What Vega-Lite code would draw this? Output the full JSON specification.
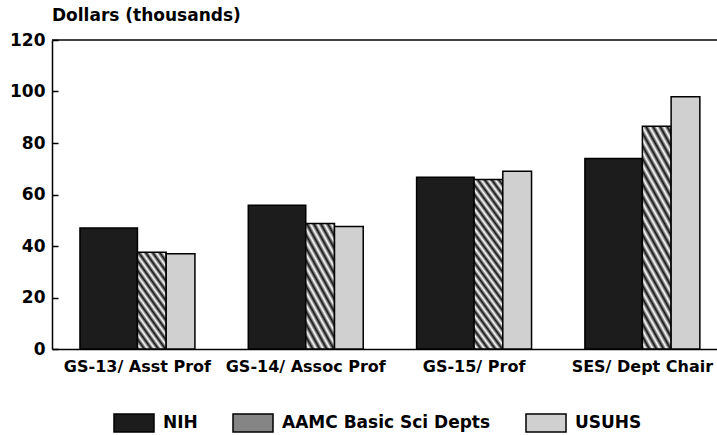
{
  "$schema": "https://vega.github.io/schema/vega-lite/v6.json",
  "autosize": {"type": "none"},
  "padding": {"left": 52, "top": 40, "right": 0, "bottom": 86},
  "width": 665,
  "height": 309,
  "background": "white",
  "title": {"text": "Dollars (thousands)", "anchor": "start", "frame": "group", "fontSize": 17, "font": "DejaVu Sans", "fontWeight": "bold", "color": "black", "offset": 6},
  "config": {"view": {"stroke": null}, "font": "DejaVu Sans"},
  "data": {"values": [
    {"grade": "GS-13/ Asst Prof", "series": "NIH", "salary": 47},
    {"grade": "GS-13/ Asst Prof", "series": "AAMC Basic Sci Depts", "salary": 37.6},
    {"grade": "GS-13/ Asst Prof", "series": "USUHS", "salary": 37},
    {"grade": "GS-14/ Assoc Prof", "series": "NIH", "salary": 55.8},
    {"grade": "GS-14/ Assoc Prof", "series": "AAMC Basic Sci Depts", "salary": 48.7},
    {"grade": "GS-14/ Assoc Prof", "series": "USUHS", "salary": 47.6},
    {"grade": "GS-15/ Prof", "series": "NIH", "salary": 66.7},
    {"grade": "GS-15/ Prof", "series": "AAMC Basic Sci Depts", "salary": 65.8},
    {"grade": "GS-15/ Prof", "series": "USUHS", "salary": 69},
    {"grade": "SES/ Dept Chair", "series": "NIH", "salary": 74},
    {"grade": "SES/ Dept Chair", "series": "AAMC Basic Sci Depts", "salary": 86.5},
    {"grade": "SES/ Dept Chair", "series": "USUHS", "salary": 98}
  ]},
  "layer": [
    {
      "transform": [{"filter": "datum.series === 'NIH'"}],
      "mark": {"type": "bar", "stroke": "black", "strokeWidth": 1.5},
      "encoding": {
        "x": {"field": "grade", "type": "nominal", "sort": null,
              "scale": {"paddingInner": 0.317, "paddingOuter": 0.134, "align": 0.62},
              "axis": {"title": null, "ticks": false, "labelAngle": 0, "labelPadding": 9, "labelFontSize": 16, "labelFontWeight": "bold", "labelColor": "black", "labelFont": "DejaVu Sans", "domainColor": "black", "domainWidth": 1.5, "labelLimit": 0}},
        "y": {"field": "salary", "type": "quantitative",
              "scale": {"domain": [0, 120]},
              "axis": {"title": null, "values": [0, 20, 40, 60, 80, 100, 120], "grid": false, "tickSize": -6, "tickColor": "black", "tickWidth": 1.5, "labelPadding": 13, "labelFontSize": 17, "labelFontWeight": "bold", "labelColor": "black", "labelFont": "DejaVu Sans", "domainColor": "black", "domainWidth": 1.5}},
        "xOffset": {"field": "series", "scale": {"domain": ["NIH"], "paddingInner": 0, "paddingOuter": 0.5, "align": 0}},
        "fill": {"field": "series", "type": "nominal",
                 "scale": {"domain": ["NIH", "AAMC Basic Sci Depts", "USUHS"], "range": ["#1c1c1c", "#858585", "#d0d0d0"]},
                 "legend": {"title": null, "orient": "none", "legendX": 61, "legendY": 362, "direction": "horizontal", "symbolType": "M-1,-0.45H1V0.45H-1Z", "symbolSize": 1600, "symbolStrokeColor": "black", "symbolStrokeWidth": 1.5, "labelFontSize": 17, "labelFont": "DejaVu Sans", "labelFontWeight": "bold", "labelColor": "black", "columnPadding": 32, "labelOffset": 8, "labelLimit": 0, "padding": 0,
                   "encoding": {"symbols": {
                     "stroke": {"value": "black"},
                     "strokeWidth": {"value": 1.5},
                     "fill": {"condition": [
                       {"test": "datum.value === 'NIH'", "value": "#1c1c1c"},
                       {"test": "datum.value === 'AAMC Basic Sci Depts'", "value": {"gradient": "linear", "x1": 0, "y1": 1, "x2": 1.187, "y2": 0.668, "stops": [
                         {"offset": 0, "color": "#111"}, {"offset": 0.068, "color": "#fff"}, {"offset": 0.136, "color": "#111"}, {"offset": 0.204, "color": "#fff"},
                         {"offset": 0.272, "color": "#111"}, {"offset": 0.34, "color": "#fff"}, {"offset": 0.408, "color": "#111"}, {"offset": 0.476, "color": "#fff"},
                         {"offset": 0.544, "color": "#111"}, {"offset": 0.612, "color": "#fff"}, {"offset": 0.68, "color": "#111"}, {"offset": 0.748, "color": "#fff"},
                         {"offset": 0.816, "color": "#111"}, {"offset": 0.884, "color": "#fff"}, {"offset": 0.952, "color": "#111"}, {"offset": 1, "color": "#fff"}]}}],
                       "value": "#d0d0d0"}}}}}
      }
    },
    {
      "transform": [{"filter": "datum.series !== 'NIH'"}],
      "mark": {"type": "bar", "stroke": "black", "strokeWidth": 1.5},
      "encoding": {
        "x": {"field": "grade", "type": "nominal", "sort": null,
              "scale": {"paddingInner": 0.317, "paddingOuter": 0.134, "align": 0.62},
              "axis": {"title": null, "ticks": false, "labelAngle": 0, "labelPadding": 9, "labelFontSize": 16, "labelFontWeight": "bold", "labelColor": "black", "labelFont": "DejaVu Sans", "domainColor": "black", "domainWidth": 1.5, "labelLimit": 0}},
        "y": {"field": "salary", "type": "quantitative",
              "scale": {"domain": [0, 120]},
              "axis": {"title": null, "values": [0, 20, 40, 60, 80, 100, 120], "grid": false, "tickSize": -6, "tickColor": "black", "tickWidth": 1.5, "labelPadding": 13, "labelFontSize": 17, "labelFontWeight": "bold", "labelColor": "black", "labelFont": "DejaVu Sans", "domainColor": "black", "domainWidth": 1.5}},
        "xOffset": {"field": "series", "scale": {"domain": ["AAMC Basic Sci Depts", "USUHS"], "paddingInner": 0, "paddingOuter": 1, "align": 1}},
        "fill": {"field": "series", "type": "nominal",
                 "scale": {"domain": ["NIH", "AAMC Basic Sci Depts", "USUHS"], "range": ["#1c1c1c", "#858585", "#d0d0d0"]},
                 "condition": [
                   {"test": "datum.series === 'AAMC Basic Sci Depts' && (datum.grade === 'GS-13/ Asst Prof' || datum.grade === 'GS-14/ Assoc Prof')",
                    "value": {"gradient": "linear", "x1": 0, "y1": 1, "x2": 1, "y2": -1.4, "stops": [
                      {"offset": 0, "color": "#111"}, {"offset": 0.018, "color": "#fff"}, {"offset": 0.036, "color": "#111"}, {"offset": 0.054, "color": "#fff"},
                      {"offset": 0.072, "color": "#111"}, {"offset": 0.09, "color": "#fff"}, {"offset": 0.108, "color": "#111"}, {"offset": 0.126, "color": "#fff"},
                      {"offset": 0.144, "color": "#111"}, {"offset": 0.162, "color": "#fff"}, {"offset": 0.18, "color": "#111"}, {"offset": 0.198, "color": "#fff"},
                      {"offset": 0.216, "color": "#111"}, {"offset": 0.234, "color": "#fff"}, {"offset": 0.252, "color": "#111"}, {"offset": 0.27, "color": "#fff"},
                      {"offset": 0.288, "color": "#111"}, {"offset": 0.306, "color": "#fff"}, {"offset": 0.324, "color": "#111"}, {"offset": 0.342, "color": "#fff"},
                      {"offset": 0.36, "color": "#111"}, {"offset": 0.378, "color": "#fff"}, {"offset": 0.396, "color": "#111"}, {"offset": 0.414, "color": "#fff"},
                      {"offset": 0.432, "color": "#111"}, {"offset": 0.45, "color": "#fff"}, {"offset": 0.468, "color": "#111"}, {"offset": 0.486, "color": "#fff"},
                      {"offset": 0.504, "color": "#111"}]}},
                   {"test": "datum.series === 'AAMC Basic Sci Depts'",
                    "value": {"gradient": "linear", "x1": 0, "y1": 1, "x2": 1, "y2": -3.3, "stops": [
                      {"offset": 0, "color": "#111"}, {"offset": 0.0063, "color": "#fff"}, {"offset": 0.0126, "color": "#111"}, {"offset": 0.0189, "color": "#fff"},
                      {"offset": 0.0252, "color": "#111"}, {"offset": 0.0315, "color": "#fff"}, {"offset": 0.0378, "color": "#111"}, {"offset": 0.0441, "color": "#fff"},
                      {"offset": 0.0504, "color": "#111"}, {"offset": 0.0567, "color": "#fff"}, {"offset": 0.063, "color": "#111"}, {"offset": 0.0693, "color": "#fff"},
                      {"offset": 0.0756, "color": "#111"}, {"offset": 0.0819, "color": "#fff"}, {"offset": 0.0882, "color": "#111"}, {"offset": 0.0945, "color": "#fff"},
                      {"offset": 0.1008, "color": "#111"}, {"offset": 0.1071, "color": "#fff"}, {"offset": 0.1134, "color": "#111"}, {"offset": 0.1197, "color": "#fff"},
                      {"offset": 0.126, "color": "#111"}, {"offset": 0.1323, "color": "#fff"}, {"offset": 0.1386, "color": "#111"}, {"offset": 0.1449, "color": "#fff"},
                      {"offset": 0.1512, "color": "#111"}, {"offset": 0.1575, "color": "#fff"}, {"offset": 0.1638, "color": "#111"}, {"offset": 0.1701, "color": "#fff"},
                      {"offset": 0.1764, "color": "#111"}, {"offset": 0.1827, "color": "#fff"}, {"offset": 0.189, "color": "#111"}, {"offset": 0.1953, "color": "#fff"},
                      {"offset": 0.2016, "color": "#111"}, {"offset": 0.2079, "color": "#fff"}, {"offset": 0.2142, "color": "#111"}, {"offset": 0.2205, "color": "#fff"},
                      {"offset": 0.2268, "color": "#111"}, {"offset": 0.2331, "color": "#fff"}, {"offset": 0.2394, "color": "#111"}, {"offset": 0.2457, "color": "#fff"},
                      {"offset": 0.252, "color": "#111"}, {"offset": 0.2583, "color": "#fff"}, {"offset": 0.2646, "color": "#111"}, {"offset": 0.2709, "color": "#fff"},
                      {"offset": 0.2772, "color": "#111"}]}}
                 ]}
      }
    },
    {
      "data": {"values": [{"top": 120}]},
      "mark": {"type": "rule", "stroke": "black", "strokeWidth": 1.5},
      "encoding": {"y": {"field": "top", "type": "quantitative",
              "axis": {"title": null, "values": [0, 20, 40, 60, 80, 100, 120], "grid": false, "tickSize": -6, "tickColor": "black", "tickWidth": 1.5, "labelPadding": 13, "labelFontSize": 17, "labelFontWeight": "bold", "labelColor": "black", "labelFont": "DejaVu Sans", "domainColor": "black", "domainWidth": 1.5}}}
    }
  ],
  "resolve": {"scale": {"xOffset": "independent"}}
}
